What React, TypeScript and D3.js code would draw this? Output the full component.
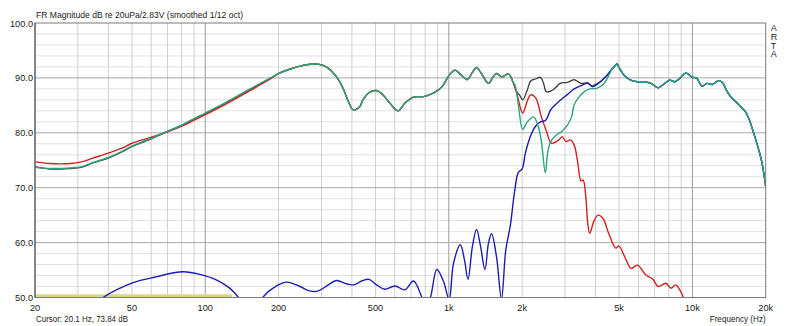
import React from "react";
import * as d3 from "d3";

// ---------- data (frequency in Hz, level in dB) ----------
// low-frequency part, before the curves join
const lowFreq = [20, 23, 28, 31, 34.6, 40, 45.5, 50, 57, 60, 70, 80, 90, 100, 120, 150, 185];
const greenLowDb = [73.7, 73.5, 73.6, 73.8, 74.6, 75.5, 76.6, 77.6, 78.6, 79.0, 80.3, 81.4, 82.6, 83.6, 85.4, 87.8, 90.0];
const blackLowDb = [73.84, 73.4, 73.5, 73.7, 74.5, 75.4, 76.5, 77.5, 78.5, 78.9, 80.2, 81.3, 82.5, 83.5, 85.3, 87.7, 89.9];
const redLowDb = [74.7, 74.4, 74.4, 74.7, 75.4, 76.3, 77.2, 78.1, 78.9, 79.2, 80.2, 81.2, 82.3, 83.3, 85.1, 87.5, 89.8];

// shared part 200 Hz - 1.85 kHz (black, red, green)
const midFreq = [200, 230, 260, 290, 314, 346, 368, 387, 405, 430, 444, 470, 505, 537, 573, 619, 660, 716, 788, 870, 938, 1000, 1060, 1120, 1190, 1250, 1300, 1360, 1455, 1520, 1570, 1650, 1760, 1840];
const midDb = [90.8, 91.8, 92.4, 92.5, 92.0, 90.2, 88.1, 85.7, 84.2, 84.7, 86.0, 87.3, 87.7, 86.9, 85.4, 84.0, 85.4, 86.5, 86.6, 87.3, 88.4, 90.4, 91.4, 90.6, 89.7, 91.0, 91.9, 90.8, 89.0, 90.2, 90.8, 90.2, 90.7, 89.1];

// crossover region, each curve on its own
const blackXFreq = [1900, 1950, 2010, 2100, 2165, 2270, 2380, 2450, 2510, 2620, 2740, 2864, 3070, 3190, 3270, 3490, 3720, 3870, 3960, 4190, 4470];
const blackXDb = [87.5, 86.9, 86.0, 87.8, 89.4, 89.8, 90.1, 89.0, 87.5, 87.6, 88.2, 89.0, 89.2, 89.5, 89.7, 89.0, 89.1, 88.5, 88.7, 89.3, 90.5];

const redXFreq = [1900, 2010, 2100, 2165, 2270, 2400, 2520, 2640, 2830, 2920, 3030, 3150, 3270, 3380, 3490, 3560, 3650, 3720, 3790, 3950, 4100, 4300, 4530, 4850, 4990, 5350, 5600, 5950, 6440, 6890, 7230, 7780, 8170, 8550, 8880, 9180, 9500];
const redXDb = [87.2, 83.6, 85.8, 86.9, 86.4, 82.9, 80.2, 78.1, 78.7, 79.3, 78.4, 78.7, 77.8, 74.7, 71.2, 71.4, 68.4, 63.5, 61.7, 64.0, 65.0, 64.4, 61.7, 59.0, 59.4, 56.8, 55.3, 55.9, 54.1, 53.3, 52.0, 52.6, 51.7, 52.3, 51.4, 50.0, 47.0];

const greenXFreq = [1870, 1930, 2010, 2100, 2230, 2330, 2400, 2490, 2550, 2620, 2760, 2900, 3070, 3190, 3270, 3410, 3600, 3790, 4050, 4300, 4470];
const greenXDb = [88.7, 85.1, 80.6, 82.0, 82.9, 81.1, 78.4, 72.7, 76.6, 78.4, 79.6, 80.2, 81.4, 82.9, 85.1, 86.4, 87.5, 88.0, 88.1, 88.8, 89.9];

const blueFreq = [20, 30, 38, 50.6, 63.4, 74.1, 81.3, 95, 111, 126, 137, 155, 172, 196, 216, 245, 268, 291, 320, 346, 380, 405, 439, 470, 505, 546, 601, 660, 716, 776, 805, 840, 893, 950, 1003, 1045, 1115, 1160, 1199, 1250, 1300, 1350, 1407, 1455, 1498, 1570, 1645, 1714, 1790, 1865, 1930, 2000, 2060, 2165, 2270, 2380, 2500, 2620, 2830, 3070, 3270, 3490, 3720, 3900, 4190, 4470];
const blueDb = [38, 46.5, 50.0, 52.7, 53.8, 54.5, 54.7, 54.2, 53.2, 51.7, 50.0, 46.5, 50.0, 52.1, 52.8, 52.0, 51.2, 51.2, 52.3, 53.1, 52.5, 52.3, 53.0, 53.3, 52.3, 51.5, 52.1, 51.4, 53.0, 50.0, 48.5, 50.0, 55.1, 53.0, 49.6, 56.2, 59.6, 56.8, 53.3, 59.3, 62.4, 59.3, 55.1, 59.9, 61.6, 57.4, 49.7, 58.7, 63.2, 69.5, 72.8, 73.4, 76.2, 79.4, 81.2, 82.0, 82.3, 84.2, 85.7, 87.0, 88.0, 88.6, 89.0, 88.4, 89.3, 90.5];

// shared high part (black, green, blue)
const highFreq = [4690, 4840, 4910, 5000, 5240, 5580, 5950, 6340, 6770, 7230, 7700, 8070, 8460, 8870, 9400, 10000, 10400, 10960, 11500, 12060, 12800, 13250, 13900, 14350, 15040, 15770, 16530, 17050, 17870, 18730, 19340, 20000];
const highDb = [91.7, 92.3, 92.6, 91.9, 90.5, 89.6, 89.3, 89.3, 89.0, 88.2, 89.0, 89.6, 89.3, 89.9, 90.9, 90.1, 90.0, 88.5, 89.0, 88.8, 89.5, 89.2, 87.5, 86.6, 85.7, 84.8, 83.8, 82.6, 79.9, 76.9, 74.4, 70.2];

const yellowFreq = [20, 129];
const yellowDb = [50.35, 50.35];

const yTicks = [100, 90, 80, 70, 60, 50];
const xTickLabels: [number, string][] = [
  [20, "20"], [50, "50"], [100, "100"], [200, "200"], [500, "500"],
  [1000, "1k"], [2000, "2k"], [5000, "5k"], [10000, "10k"], [20000, "20k"],
];

const title = "FR Magnitude dB re 20uPa/2.83V (smoothed 1/12 oct)";
const cursorText = "Cursor: 20.1 Hz, 73.84 dB";
const xAxisTitle = "Frequency (Hz)";
const brand = "ARTA";

// ---------- layout ----------
const W = 800, H = 326;
const L = 35, R = 765.7, T = 23, B = 297.5;

const zip = (f: number[], v: number[]) => f.map((x, i) => [x, v[i]] as [number, number]);

export default function App() {
  const x = d3.scaleLog().domain([20, 20000]).range([L, R]);
  const y = d3.scaleLinear().domain([50, 100]).range([B, T]);
  const line = d3
    .line<[number, number]>()
    .x((d) => x(d[0]))
    .y((d) => y(d[1]))
    .curve(d3.curveCatmullRom.alpha(0.5));

  const black = [...zip(lowFreq, blackLowDb), ...zip(midFreq, midDb), ...zip(blackXFreq, blackXDb), ...zip(highFreq, highDb)];
  const red = [...zip(lowFreq, redLowDb), ...zip(midFreq, midDb), ...zip(redXFreq, redXDb)];
  const green = [...zip(lowFreq, greenLowDb), ...zip(midFreq, midDb), ...zip(greenXFreq, greenXDb), ...zip(highFreq, highDb)];
  const blue = [...zip(blueFreq, blueDb), ...zip(highFreq, highDb)];
  const yellow = zip(yellowFreq, yellowDb);

  // grid lines
  const vLines: number[] = [];
  for (let dec = 10; dec <= 10000; dec *= 10) {
    for (let m = 1; m <= 9; m++) {
      const f = dec * m;
      if (f > 20 && f < 20000) vLines.push(f);
    }
  }
  const hMinor: number[] = d3.range(52, 100, 2).filter((v) => v % 10 !== 0);
  const hMajor = [60, 70, 80, 90];

  const font = "'Liberation Sans', Arial, sans-serif";
  const fs = 9.2;

  return (
    <svg width={W} height={H} style={{ position: "absolute", left: 0, top: 0, background: "#fff" }} fontFamily={font}>
      <defs>
        <clipPath id="plot">
          <rect x={L} y={T} width={R - L} height={B - T} />
        </clipPath>
      </defs>
      <rect x={0} y={0} width={W} height={H} fill="#ffffff" />
      <rect x={L} y={T} width={R - L} height={B - T} fill="#ffffff" />
      {hMinor.map((v) => (
        <line key={"hm" + v} x1={L} x2={R} y1={y(v)} y2={y(v)} stroke="#e2e2e2" strokeWidth={1} />
      ))}
      {vLines.map((f) => (
        <line key={"v" + f} x1={x(f)} x2={x(f)} y1={T} y2={B}
          stroke={f === 100 || f === 1000 || f === 10000 ? "#9a9a9a" : "#d0d0d0"} strokeWidth={1} />
      ))}
      {hMajor.map((v) => (
        <line key={"hM" + v} x1={L} x2={R} y1={y(v)} y2={y(v)} stroke="#a8a8a8" strokeWidth={1} />
      ))}
      <g clipPath="url(#plot)" fill="none" strokeLinejoin="round">
        <path d={line(yellow) || ""} stroke="#d8d88c" strokeWidth={2.6} />
        <path d={line(black) || ""} stroke="#3a3a3a" strokeWidth={1.3} />
        <path d={line(red) || ""} stroke="#d42020" strokeWidth={1.4} />
        <path d={line(blue) || ""} stroke="#1c1cb0" strokeWidth={1.4} />
        <path d={line(green) || ""} stroke="#2aa57a" strokeWidth={1.4} />
      </g>
      <rect x={L} y={T} width={R - L} height={B - T} fill="none" stroke="#7a7a7a" strokeWidth={1} />
      <line x1={L} x2={L} y1={T} y2={B} stroke="#505050" strokeWidth={1} />
      {yTicks.map((v) => (
        <text key={"yt" + v} x={L - 2} y={y(v) + 3.5} fontSize={fs} textAnchor="end" fill="#222">
          {v.toFixed(1)}
        </text>
      ))}
      {xTickLabels.map(([f, s]) => (
        <text key={"xt" + f} x={x(f)} y={B + 13} fontSize={fs} textAnchor="middle" fill="#222">
          {s}
        </text>
      ))}
      <text x={L + 1} y={T - 5} fontSize={fs + 0.6} fill="#222" textLength={207} lengthAdjust="spacingAndGlyphs">{title}</text>
      <text x={L + 1} y={B + 24} fontSize={fs} fill="#222" textLength={92} lengthAdjust="spacingAndGlyphs">{cursorText}</text>
      <text x={R} y={B + 24.5} fontSize={fs} textAnchor="end" fill="#222" textLength={56} lengthAdjust="spacingAndGlyphs">{xAxisTitle}</text>
      <text x={R + 5} y={T + 8} fontSize={9} fill="#222">
        {brand.split("").map((c, i) => (
          <tspan key={"a" + i} x={R + 5} dy={i === 0 ? 0 : 8.8}>{c}</tspan>
        ))}
      </text>
    </svg>
  );
}
